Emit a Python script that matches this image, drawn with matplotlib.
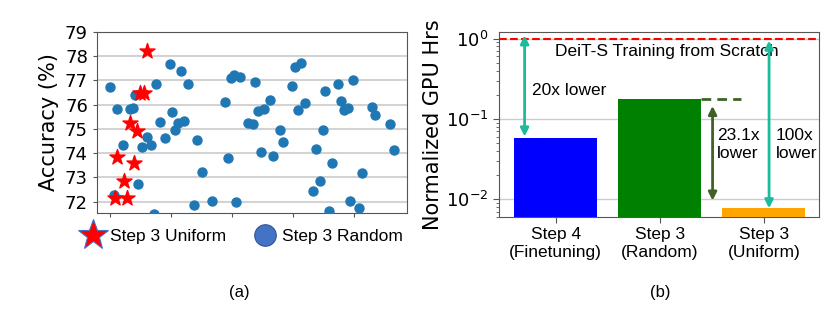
import matplotlib
matplotlib.use("Agg")
import matplotlib.pyplot as plt
from matplotlib.lines import Line2D
import numpy as np

# ---- data: left panel (accuracy scatter) ----
uniform_x = [0.60, 0.50, 0.56, 0.33, 0.44, 0.12, 0.39, 0.23, 0.08, 0.28]
uniform_acc = [78.21, 76.50, 76.49, 75.26, 74.92, 73.86, 73.60, 72.84, 72.13, 72.15]

random_x = [0.98, 1.17, 1.28, 0.76, 0.00, 0.41, 0.12, 0.32, 0.37, 1.02,
            0.82, 1.12, 1.22, 1.07, 1.42, 0.61, 0.91, 0.22, 0.67, 0.52,
            1.51, 0.46, 0.07, 1.37, 0.72, 1.67, 2.07, 1.93, 1.88, 1.98,
            2.03, 2.13, 2.38, 2.27, 2.34, 2.43, 2.53, 2.63, 2.48, 2.68,
            2.78, 2.83, 2.98, 3.04, 3.13, 3.08, 3.19, 3.53, 3.74, 3.98,
            3.79, 3.83, 3.90, 4.29, 4.35, 4.59, 4.65, 3.49, 3.38, 3.64,
            4.14, 3.44, 3.33, 3.94, 4.09, 3.59]
random_acc = [77.66, 77.38, 76.86, 76.84, 76.71, 76.38, 75.83, 75.81, 75.85, 75.69,
              75.30, 75.26, 75.32, 74.97, 74.55, 74.67, 74.62, 74.34, 74.34, 74.24,
              73.24, 72.72, 72.28, 71.85, 71.49, 72.03, 71.99, 73.78, 76.10, 77.11,
              77.22, 77.16, 76.94, 75.26, 75.21, 75.76, 75.81, 76.21, 74.05, 73.90,
              74.97, 74.48, 76.79, 77.56, 77.72, 75.80, 76.06, 76.56, 76.87, 77.02,
              76.17, 75.77, 75.85, 75.90, 75.58, 75.19, 74.11, 74.97, 74.16, 73.60,
              73.20, 72.87, 72.43, 72.04, 71.73, 71.60]
acc_ticks = [72, 73, 74, 75, 76, 77, 78, 79]

# ---- data: right panel (GPU hours) ----
bar_labels = ["Step 4\n(Finetuning)", "Step 3\n(Random)", "Step 3\n(Uniform)"]
gpu_hrs = [0.0575, 0.177, 0.0077]
bar_colors = ["blue", "green", "orange"]
scratch_hrs = 1.0

TEAL = "#1abc9c"
DKGREEN = "#3f6326"
SPINE = "#555555"

fig = plt.figure(figsize=(8.3, 3.15), dpi=100)

# ---------- left panel ----------
ax1 = fig.add_axes([97/830, (315-213)/315, 310/830, 181/315])
ax1.scatter(random_x, random_acc, s=42, color="#1f77b4", zorder=3)
ax1.scatter(uniform_x, uniform_acc, s=130, marker="*", color="red", zorder=4)
ax1.set_xlim(-0.213, 4.87)
ax1.set_ylim(71.53, 79)
ax1.set_yticks(acc_ticks)
ax1.set_xticks([0, 1, 2, 3, 4])
ax1.set_xticklabels([])
ax1.tick_params(axis="y", labelsize=13, length=3, color=SPINE)
ax1.tick_params(axis="x", length=3, color=SPINE)
ax1.yaxis.grid(True, color="#d3d3d3", linewidth=1.5)
ax1.set_axisbelow(True)
for s in ax1.spines.values():
    s.set_color(SPINE)
ax1.set_ylabel("Accuracy (%)", fontsize=15, labelpad=4)

handles = [
    Line2D([], [], linestyle="none", marker="*", markersize=23,
           markerfacecolor="red", markeredgecolor="#4472c4", markeredgewidth=0.8),
    Line2D([], [], linestyle="none", marker="o", markersize=15.5,
           markerfacecolor="#4472c4", markeredgecolor="#2f5597", markeredgewidth=0.8),
]
fig.legend(handles, ["Step 3 Uniform", "Step 3 Random"], loc="center",
           bbox_to_anchor=(242/830, 1 - 236/315), ncol=2, frameon=False,
           prop={"family": "Liberation Sans", "size": 12.5},
           handletextpad=0.3, columnspacing=1.5, handlelength=1.4)

fig.text(239/830, 1 - 292/315, "(a)", ha="center", va="center",
         fontsize=12, family="Liberation Sans")

# ---------- right panel ----------
ax2 = fig.add_axes([499/830, (315-217)/315, 320/830, 185/315])
xpos = np.arange(len(gpu_hrs))
ax2.bar(xpos, gpu_hrs, width=0.8, color=bar_colors, zorder=3)
ax2.set_yscale("log")
ax2.set_ylim(0.006, 1.21)
ax2.set_xlim(-0.546, 2.53)
ax2.set_xticks(xpos)
ax2.set_xticklabels(bar_labels, fontsize=12.5, family="Liberation Sans")
ax2.tick_params(axis="y", which="major", labelsize=13, length=4, color=SPINE)
ax2.tick_params(axis="y", which="minor", length=2, color=SPINE)
ax2.tick_params(axis="x", length=4, color=SPINE)
ax2.yaxis.grid(True, which="major", color="#cccccc", linewidth=1.0)
ax2.set_axisbelow(True)
for s in ax2.spines.values():
    s.set_color(SPINE)
ax2.set_ylabel("Normalized GPU Hrs", fontsize=15, labelpad=2)

ax2.axhline(scratch_hrs, color="red", linestyle="--", linewidth=1.5, zorder=4)
ax2.text(1.07, 0.69, "DeiT-S Training from Scratch", ha="center", va="center",
         fontsize=12.5, family="Liberation Sans", zorder=5)

arrow_kw = dict(arrowstyle="<|-|>", lw=2, mutation_scale=12, shrinkA=0, shrinkB=0)
# 20x arrow
ax2.annotate("", xy=(-0.30, gpu_hrs[0] * 1.05), xytext=(-0.30, scratch_hrs * 1.1),
             arrowprops=dict(color=TEAL, **arrow_kw), zorder=5)
ax2.text(-0.23, 0.229, "20x lower", ha="left", va="center",
         fontsize=12.5, family="Liberation Sans")
# 23.1x arrow
ax2.hlines(gpu_hrs[1], 1.40, 1.78, colors=DKGREEN, linestyles=(0, (3.5, 2.2)), lw=2)
ax2.annotate("", xy=(1.507, 0.0096), xytext=(1.507, 0.145),
             arrowprops=dict(color=DKGREEN, **arrow_kw), zorder=5)
ax2.text(1.55, 0.048, "23.1x\nlower", ha="left", va="center",
         fontsize=12.5, family="Liberation Sans", linespacing=1.3)
# 100x arrow
ax2.annotate("", xy=(2.05, gpu_hrs[2]), xytext=(2.05, 0.945),
             arrowprops=dict(color=TEAL, **arrow_kw), zorder=5)
ax2.text(2.115, 0.048, "100x\nlower", ha="left", va="center",
         fontsize=12.5, family="Liberation Sans", linespacing=1.3)

fig.text(660/830, 1 - 292/315, "(b)", ha="center", va="center",
         fontsize=12, family="Liberation Sans")

fig.savefig("out.png", dpi=100)
